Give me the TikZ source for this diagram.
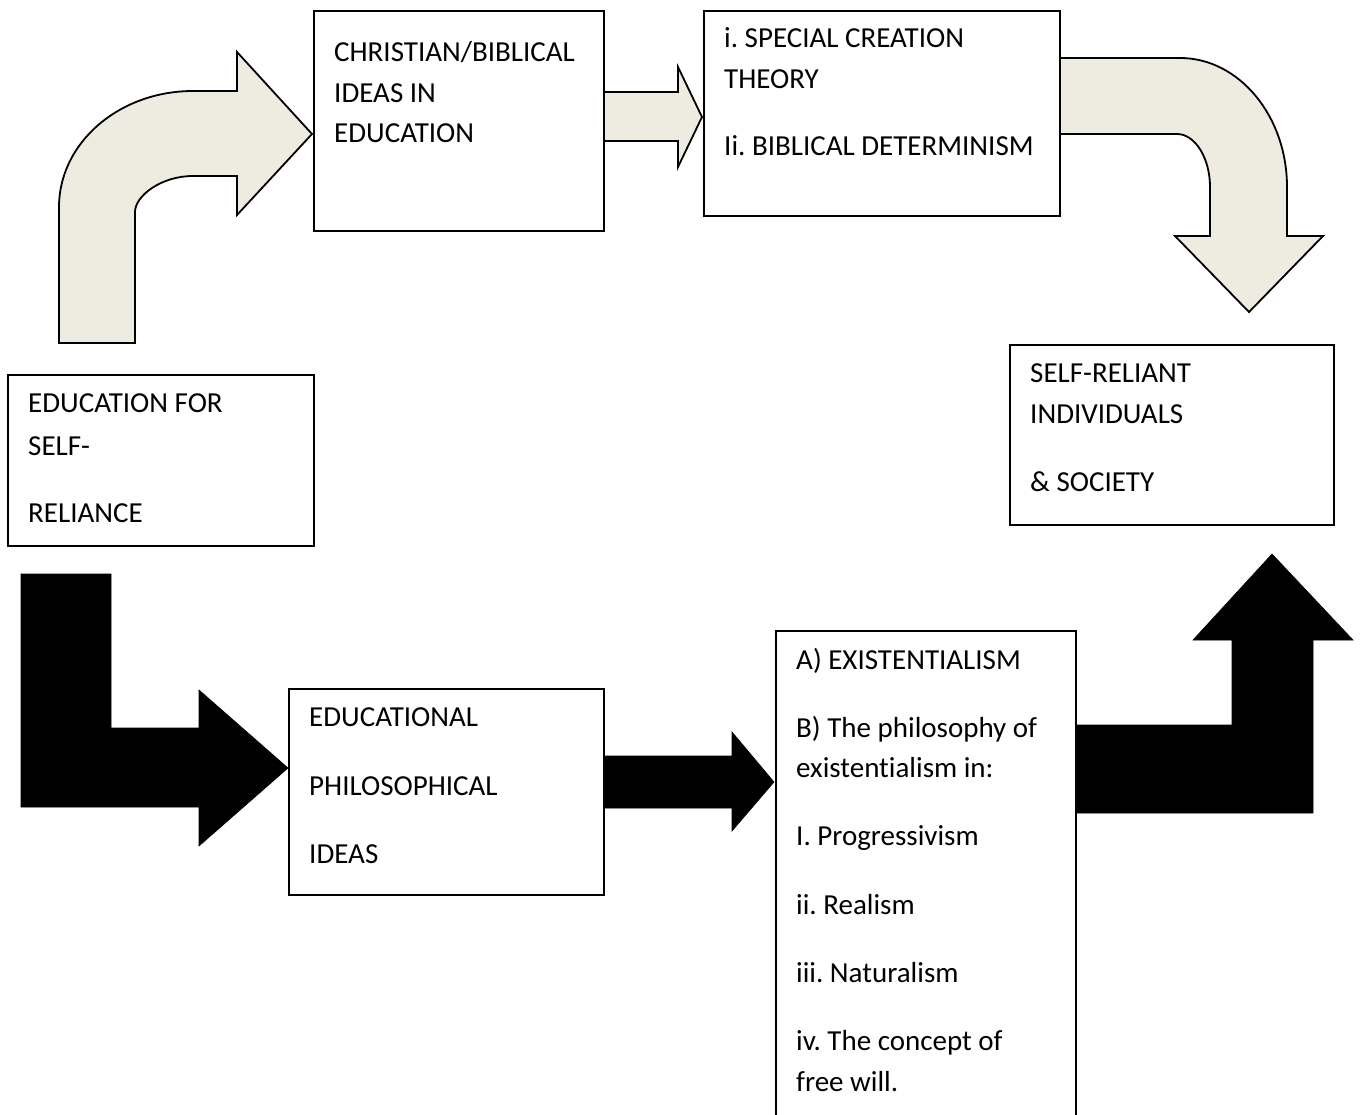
\documentclass[tikz,border=0pt]{standalone}
\usepackage{fontspec}
\setmainfont{Carlito}[Ligatures=NoCommon]
\definecolor{beigefill}{HTML}{EEECE1}
\tikzset{
  box/.style={draw, line width=1.6pt, inner sep=0pt, anchor=north west, fill=white},
  txt/.style={anchor=base west, inner sep=0pt, font=\fontsize{29}{35}\selectfont},
  beigearrow/.style={fill=beigefill, draw=black, line width=1.8pt, line join=miter},
  blackarrow/.style={fill=black, draw=black, line width=0.6pt, line join=miter},
}
\frenchspacing
\begin{document}
\frenchspacing
\begin{tikzpicture}[x=1pt,y=-1pt]
\useasboundingbox (0,0) rectangle (1365,1115);

% block arrows
\draw[beigearrow] (59,343) -- (59,207) .. controls (59,143) and (119,91) .. (193,91) -- (237,91) -- (237,52) -- (312,134) -- (237,215) -- (237,176) -- (193,176) .. controls (161,176) and (135,196) .. (135,212) -- (135,343) -- cycle;
\draw[beigearrow] (603,92) -- (678,92) -- (678,67) -- (702,117) -- (678,167) -- (678,141) -- (603,141) -- cycle;
\draw[beigearrow] (1059,58) -- (1180,58) .. controls (1239,58) and (1287,116) .. (1287,187) -- (1287,236) -- (1323,236) -- (1249,312) -- (1175,236) -- (1210,236) -- (1210,187) .. controls (1210,158) and (1195,134) .. (1177,134) -- (1059,134) -- cycle;
\draw[blackarrow] (21,574) -- (111,574) -- (111,728) -- (199,728) -- (199,690) -- (288,768) -- (199,846) -- (199,807) -- (21,807) -- cycle;
\draw[blackarrow] (603,756) -- (732,756) -- (732,732) -- (774,782) -- (732,831) -- (732,808) -- (603,808) -- cycle;
\draw[blackarrow] (1075,725) -- (1232,725) -- (1232,640) -- (1193,640) -- (1272,554) -- (1353,640) -- (1313,640) -- (1313,813) -- (1075,813) -- cycle;

% boxes
\node[box, minimum width=306pt, minimum height=171pt] (selfreliance) at (7,374) {};
\node[box, minimum width=290pt, minimum height=220pt] (christian) at (313,10) {};
\node[box, minimum width=356pt, minimum height=205pt] (creation) at (703,10) {};
\node[box, minimum width=324pt, minimum height=180pt] (society) at (1009,344) {};
\node[box, minimum width=315pt, minimum height=206pt] (philo) at (288,688) {};
\node[box, minimum width=300pt, minimum height=500pt] (exist) at (775,630) {};

% texts
\node[txt] (sr1) at (28,412) {EDUCATION FOR};
\node[txt] (sr2) at (28,455) {SELF-};
\node[txt] (sr3) at (28,522) {RELIANCE};

\node[txt] (ch1) at (334,62) {CHRISTIAN/BIBLICAL};
\node[txt] (ch2) at (334,103) {IDEAS IN};
\node[txt] (ch3) at (334,143) {EDUCATION};

\node[txt] (cr1) at (724,48) {i. SPECIAL CREATION};
\node[txt] (cr2) at (724,89) {THEORY};
\node[txt] (cr3) at (724,156) {Ii. BIBLICAL DETERMINISM};

\node[txt] (so1) at (1030,382) {SELF-RELIANT};
\node[txt] (so2) at (1030,423) {INDIVIDUALS};
\node[txt] (so3) at (1030,491) {\& SOCIETY};

\node[txt] (ph1) at (309,726) {EDUCATIONAL};
\node[txt] (ph2) at (309,795) {PHILOSOPHICAL};
\node[txt] (ph3) at (309,863) {IDEAS};

\node[txt] (ex1) at (796,669) {A) EXISTENTIALISM};
\node[txt] (ex2) at (796,737) {B) The philosophy of};
\node[txt] (ex3) at (796,777) {existentialism in:};
\node[txt] (ex4) at (796,845) {I. Progressivism};
\node[txt] (ex5) at (796,914) {ii. Realism};
\node[txt] (ex6) at (796,982) {iii. Naturalism};
\node[txt] (ex7) at (796,1050) {iv. The concept of};
\node[txt] (ex8) at (796,1091) {free will.};
\end{tikzpicture}
\end{document}
